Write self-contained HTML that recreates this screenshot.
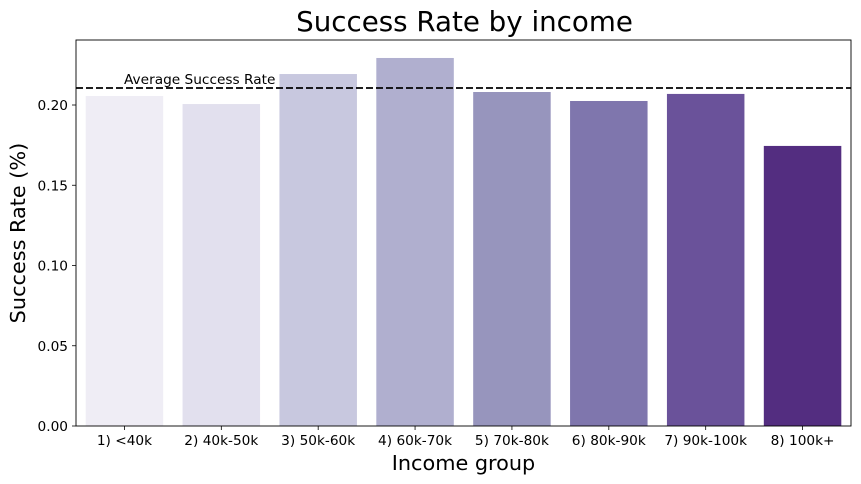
<!DOCTYPE html>
<html><head><meta charset="utf-8"><style>
body{margin:0;background:#fff;font-family:"Liberation Sans","DejaVu Sans",sans-serif;}
svg{display:block}
</style></head><body>
<svg id="chart" width="861" height="484" xmlns="http://www.w3.org/2000/svg" font-family="DejaVu Sans, Liberation Sans, sans-serif"></svg>
<script>
const categories=["1) <40k","2) 40k-50k","3) 50k-60k","4) 60k-70k","5) 70k-80k","6) 80k-90k","7) 90k-100k","8) 100k+"];
const values=[0.2056,0.2006,0.2193,0.2293,0.2081,0.2025,0.2069,0.1745];
const colors=["#efedf5","#e2e0ee","#c8c8df","#b0afcf","#9795bd","#7f76ad","#6a529a","#532d80"];
const yTicks=[0,0.05,0.10,0.15,0.20];
const yTickLabels=["0.00","0.05","0.10","0.15","0.20"];
const averageRate=0.2106;
const L=76,R=851,T=40,B=426,YMAX=0.2405;
const ns="http://www.w3.org/2000/svg";
const svg=document.getElementById('chart');
const y=v=>B-(v/YMAX)*(B-T);
const step=(R-L)/categories.length;
const x=i=>L+step*(i+0.5);
function mk(t,a,txt){const e=document.createElementNS(ns,t);for(const k in a)e.setAttribute(k,a[k]);if(txt!==undefined)e.textContent=txt;svg.appendChild(e);return e;}
values.forEach((v,i)=>{
 const r=mk('rect',{x:x(i)-step*0.4,y:y(v),width:step*0.8,height:B-y(v),fill:colors[i]});
 
 
 const tk=mk('line',{x1:x(i),x2:x(i),y1:B,y2:B+4,stroke:'#000','stroke-width':0.8});
 
 
 const t=mk('text',{x:x(i),y:B+19,'text-anchor':'middle','font-size':13.7},categories[i]);
 
 
});
yTicks.forEach((v,i)=>{
 const tk=mk('line',{x1:L-4,x2:L,y1:y(v),y2:y(v),stroke:'#000','stroke-width':0.8});
 
 
 const t=mk('text',{x:L-8,y:y(v)+5,'text-anchor':'end','font-size':13.7},yTickLabels[i]);
 
 
});
const fr=mk('rect',{x:L,y:T,width:R-L,height:B-T,fill:'none',stroke:'#000','stroke-width':0.9});


const al=mk('line',{x1:L,x2:R,y1:y(averageRate),y2:y(averageRate),stroke:'#000','stroke-width':1.8,'stroke-dasharray':'7,3'});


const at=mk('text',{x:124,y:y(averageRate)-4,'font-size':13.7},'Average Success Rate');


const ti=mk('text',{x:(L+R)/2+1,y:31,'text-anchor':'middle','font-size':27.7},'Success Rate by income');


const xt=mk('text',{x:(L+R)/2,y:470,'text-anchor':'middle','font-size':20.8},'Income group');


const yt=mk('text',{x:25,y:(T+B)/2,'text-anchor':'middle','font-size':20.8,transform:`rotate(-90 25 ${(T+B)/2})`},'Success Rate (%)');


</script>
</body></html>
